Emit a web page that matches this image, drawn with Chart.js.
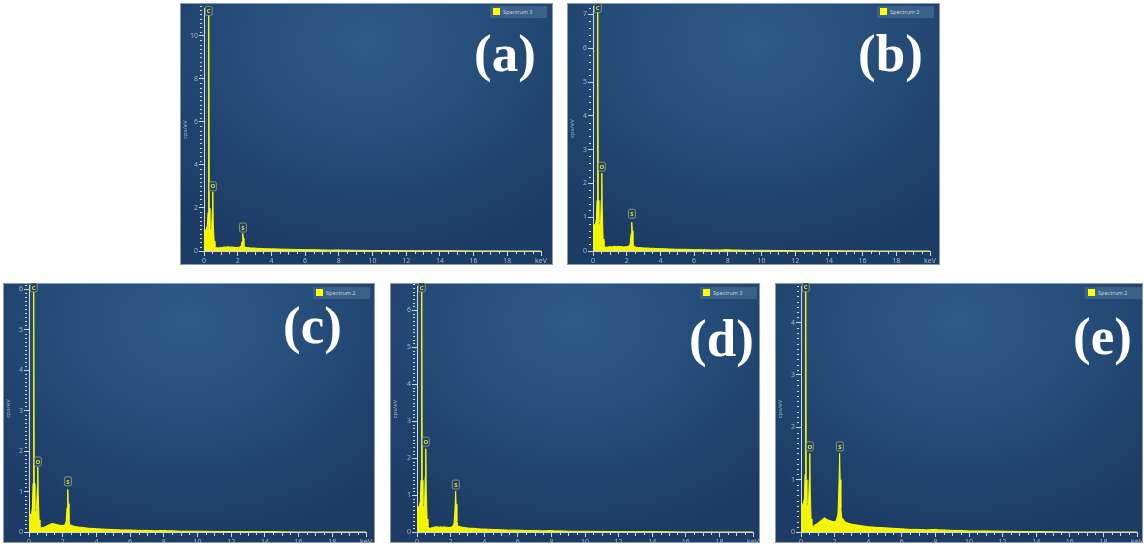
<!DOCTYPE html>
<html><head><meta charset="utf-8">
<script src="https://cdn.jsdelivr.net/npm/chart.js@4.4.0/dist/chart.umd.min.js"></script>
<style>
html,body{margin:0;padding:0;background:#fff;width:1144px;height:546px;overflow:hidden;position:relative;font-family:"Noto Sans",sans-serif}
.panel{position:absolute;background:radial-gradient(ellipse 75% 85% at 50% 15%, #2e5b88 0%, #28517e 35%, #20446f 70%, #1c3c65 100%);overflow:hidden;box-shadow:inset 0 0 0 1px #8d99a6}
.panel canvas{position:absolute;left:0;top:0}
.legend{position:absolute;height:12px;width:57px;background:#3a6189;font-size:5.5px;color:#c9d2dc;line-height:12px;white-space:nowrap}
.legend i{display:inline-block;width:7px;height:7px;background:#ffff00;vertical-align:middle;margin:0 3px 0 3px;position:relative;top:-1px}
.tag{position:absolute;font-family:"Liberation Serif","Times New Roman",serif;font-weight:bold;color:#fff;font-size:53px;line-height:53px;white-space:nowrap}
</style></head>
<body>
<script>
// ---------- data ----------
const energy = [0.03,0.05,0.1,0.15,0.2,0.24,0.27,0.29,0.31,0.35,
  0.4,0.45,0.49,0.52,0.55,0.6,0.65,0.7,0.8,0.9,
  1.0,1.1,1.2,1.3,1.4,1.5,1.6,1.7,1.8,1.9,
  2.0,2.1,2.2,2.26,2.3,2.33,2.37,2.42,2.5,2.6,
  2.7,2.8,3.0,3.2,3.4,3.6,3.8,4.0,4.5,5.0,
  5.5,6.0,6.5,7.0,7.5,8.0,8.2,8.5,9.0,9.5,
  10,11,12,13,14,15,16,17,18,19,20];

const spectrumA = [0,0.95,1.0,1.05,1.2,1.8,11.3,11.3,2.0,1.1,
  0.9,1.0,1.9,2.75,1.3,0.45,0.22,0.16,0.14,0.15,
  0.16,0.17,0.19,0.18,0.2,0.19,0.18,0.19,0.17,0.16,
  0.17,0.18,0.22,0.45,0.82,0.6,0.25,0.18,0.17,0.16,
  0.15,0.14,0.14,0.12,0.12,0.11,0.1,0.1,0.09,0.08,
  0.07,0.06,0.06,0.05,0.04,0.05,0.04,0.04,0.03,0.03,
  0.02,0.02,0.015,0.01,0.01,0.01,0.005,0.005,0,0,0];

const spectrumB = [0,0.8,0.75,0.8,0.95,1.5,7.25,7.25,1.5,0.85,
  0.7,0.8,1.5,2.3,1.2,0.35,0.15,0.12,0.11,0.12,
  0.13,0.12,0.13,0.14,0.13,0.14,0.13,0.13,0.12,0.12,
  0.13,0.14,0.2,0.5,0.85,0.6,0.25,0.15,0.12,0.11,
  0.1,0.1,0.09,0.09,0.08,0.08,0.07,0.07,0.06,0.05,
  0.05,0.04,0.04,0.03,0.03,0.04,0.03,0.03,0.02,0.02,
  0.02,0.015,0.01,0.01,0.01,0.005,0.005,0,0,0,0];

const spectrumC = [0,0.45,0.4,0.45,0.6,1.2,6.1,6.1,1.2,0.55,
  0.45,0.55,1.1,1.6,0.9,0.3,0.12,0.1,0.11,0.12,
  0.14,0.16,0.18,0.2,0.21,0.2,0.19,0.18,0.17,0.16,
  0.16,0.16,0.25,0.6,1.05,0.7,0.3,0.18,0.17,0.15,
  0.14,0.13,0.12,0.11,0.1,0.09,0.09,0.08,0.07,0.06,
  0.05,0.05,0.04,0.04,0.03,0.04,0.03,0.03,0.02,0.02,
  0.02,0.015,0.01,0.01,0.01,0.005,0,0,0,0,0];

const spectrumD = [0,0.7,0.65,0.7,0.85,1.4,6.65,6.65,1.4,0.75,
  0.6,0.7,1.5,2.25,1.1,0.35,0.15,0.11,0.1,0.12,
  0.13,0.14,0.14,0.13,0.14,0.13,0.14,0.13,0.13,0.12,
  0.13,0.14,0.22,0.6,1.1,0.75,0.3,0.17,0.15,0.14,
  0.13,0.12,0.11,0.1,0.1,0.09,0.08,0.08,0.07,0.06,
  0.05,0.05,0.04,0.04,0.03,0.04,0.03,0.03,0.02,0.02,
  0.02,0.015,0.01,0.01,0.01,0.005,0,0,0,0,0];

const spectrumE = [0,0.55,0.5,0.55,0.65,1.1,4.7,4.7,1.0,0.55,
  0.45,0.55,1.0,1.5,0.8,0.25,0.12,0.1,0.13,0.15,
  0.17,0.2,0.22,0.25,0.27,0.25,0.23,0.22,0.21,0.2,
  0.2,0.21,0.35,0.9,1.5,1.0,0.45,0.28,0.25,0.2,
  0.18,0.17,0.15,0.14,0.13,0.12,0.11,0.1,0.09,0.08,
  0.07,0.06,0.05,0.05,0.04,0.05,0.04,0.04,0.03,0.03,
  0.02,0.02,0.015,0.01,0.01,0.005,0,0,0,0,0];

const peakElements = ['C','O','S'];
const peakEnergies = [0.28, 0.525, 2.31];
const tagLevelsA = [10.95, 2.8, 0.88];
const tagLevelsB = [7.06, 2.36, 0.97];
const tagLevelsC = [5.93, 1.63, 1.14];
const tagLevelsD = [6.49, 2.32, 1.16];
const tagLevelsE = [4.59, 1.55, 1.55];

const panelNames = ['(a)','(b)','(c)','(d)','(e)'];
const legendLabels = ['Spectrum 3','Spectrum 2','Spectrum 2','Spectrum 3','Spectrum 2'];
const yAxisMax = [11.3, 7.25, 6.1, 6.65, 4.7];
const yAxisStep = [2, 1, 1, 1, 1];
const yMinorStep = [0.2, 0.2, 0.1, 0.1, 0.1];
const xAxisMax = 20;
const xAxisStep = 2;

const spectra = [spectrumA, spectrumB, spectrumC, spectrumD, spectrumE];
const tagLevels = [tagLevelsA, tagLevelsB, tagLevelsC, tagLevelsD, tagLevelsE];

// ---------- layout (page geometry) ----------
const layouts = [
  {left:180, top:3,   w:373, h:262, pL:24, pR:361, pT:5,  pB:248, tagL:294, tagT:24, legT:3},
  {left:567, top:3,   w:373, h:262, pL:26, pR:363, pT:3,  pB:248, tagL:291, tagT:24, legT:3},
  {left:3,   top:283, w:372, h:260, pL:26, pR:363, pT:2,  pB:249, tagL:280, tagT:16, legT:4},
  {left:390, top:283, w:370, h:260, pL:27, pR:363, pT:3,  pB:249, tagL:299, tagT:29, legT:4},
  {left:775, top:283, w:368, h:260, pL:26, pR:362, pT:3,  pB:249, tagL:298, tagT:27, legT:4}
];

const AXIS = '#cfd8e2';
const TICKTXT = '#a9b6c6';

const decor = {
  id:'decor',
  afterDatasetsDraw(chart){
    const o = chart.options.plugins.decor;
    const xs = chart.scales.x, ys = chart.scales.y, ca = chart.chartArea;
    const ctx = chart.ctx;
    ctx.save();
    ctx.strokeStyle = AXIS; ctx.lineWidth = 1;
    for (let k = 1; k < 40; k++) {
      if (k % 4 === 0) continue;
      const px = Math.round(xs.getPixelForValue(k * 0.5)) + 0.5;
      const len = (k % 2 === 0) ? 3 : 2;
      ctx.beginPath(); ctx.moveTo(px, ca.bottom + 1); ctx.lineTo(px, ca.bottom + 1 + len); ctx.stroke();
    }
    const n = Math.round(o.yMax / o.minor);
    for (let k = 1; k <= n; k++) {
      const v = k * o.minor;
      const r = v / o.step;
      if (Math.abs(r - Math.round(r)) < 1e-6) continue;
      const py = Math.round(ys.getPixelForValue(v)) + 0.5;
      ctx.beginPath(); ctx.moveTo(ca.left - 4, py); ctx.lineTo(ca.left - 2, py); ctx.stroke();
    }
    ctx.font = 'bold 6px "Noto Sans"';
    ctx.textAlign = 'center'; ctx.textBaseline = 'middle';
    o.names.forEach((nm, i) => {
      const px = xs.getPixelForValue(o.energies[i]);
      const pb = ys.getPixelForValue(o.levels[i]);
      const w = 7, h = 9;
      ctx.beginPath();
      ctx.roundRect(px - w / 2, pb - h, w, h, 1.5);
      ctx.fillStyle = '#22425f'; ctx.fill();
      ctx.strokeStyle = '#9aa884'; ctx.lineWidth = 0.8; ctx.stroke();
      ctx.fillStyle = '#e2e23c';
      ctx.fillText(nm, px, pb - h / 2 + 0.5);
    });
    ctx.restore();
  }
};

layouts.forEach((L, idx) => {
  const panel = document.createElement('div');
  panel.className = 'panel';
  Object.assign(panel.style, {left:L.left + 'px', top:L.top + 'px', width:L.w + 'px', height:L.h + 'px'});
  const canvas = document.createElement('canvas');
  canvas.width = L.w; canvas.height = L.h;
  canvas.style.width = L.w + 'px'; canvas.style.height = L.h + 'px';
  panel.appendChild(canvas);
  const leg = document.createElement('div');
  leg.className = 'legend';
  leg.style.left = '310px'; leg.style.top = L.legT + 'px';
  leg.innerHTML = '<i></i>' + legendLabels[idx];
  panel.appendChild(leg);
  document.body.appendChild(panel);

  const tag = document.createElement('div');
  tag.className = 'tag';
  tag.style.left = (L.left + L.tagL) + 'px';
  tag.style.top = (L.top + L.tagT) + 'px';
  tag.textContent = panelNames[idx];
  document.body.appendChild(tag);

  const pts = energy.map((e, i) => ({x:e, y:spectra[idx][i]}));
  new Chart(canvas, {
    type:'scatter',
    data:{datasets:[{data:pts, showLine:true, borderColor:'#ffff00', borderWidth:1,
      backgroundColor:'#f4f400', fill:'origin', pointRadius:0, tension:0}]},
    options:{
      responsive:false, animation:false, devicePixelRatio:1,
      layout:{padding:{left:0, top:L.pT, right:L.w - L.pR, bottom:0}},
      plugins:{legend:{display:false}, tooltip:{enabled:false},
        decor:{yMax:yAxisMax[idx], step:yAxisStep[idx], minor:yMinorStep[idx],
          names:peakElements, energies:peakEnergies, levels:tagLevels[idx]}},
      scales:{
        x:{type:'linear', min:0, max:xAxisMax,
          ticks:{stepSize:xAxisStep, autoSkip:false, maxRotation:0, color:TICKTXT, font:{size:7, family:'"Noto Sans"'}, padding:1,
            callback:v => v === xAxisMax ? 'keV' : v},
          grid:{display:true, drawOnChartArea:false, drawTicks:true, tickLength:5, tickColor:AXIS, lineWidth:1},
          border:{display:true, color:AXIS, width:1},
          afterFit:s => {s.height = L.h - L.pB; s.paddingLeft = 0; s.paddingRight = 0;}},
        y:{type:'linear', min:0, max:yAxisMax[idx],
          ticks:{stepSize:yAxisStep[idx], includeBounds:false, color:TICKTXT, font:{size:7, family:'"Noto Sans"'}, padding:1},
          grid:{display:true, drawOnChartArea:false, drawTicks:true, tickLength:5, tickColor:AXIS, lineWidth:1},
          border:{display:true, color:AXIS, width:1},
          title:{display:true, text:'cps/eV', color:'#9fb0c2', font:{size:6, family:'"Noto Sans"'}, padding:{top:2, bottom:0}},
          afterFit:s => {s.width = L.pL; s.paddingTop = 0; s.paddingBottom = 0;}}
      }
    },
    plugins:[decor]
  });
});
</script>
</body></html>
